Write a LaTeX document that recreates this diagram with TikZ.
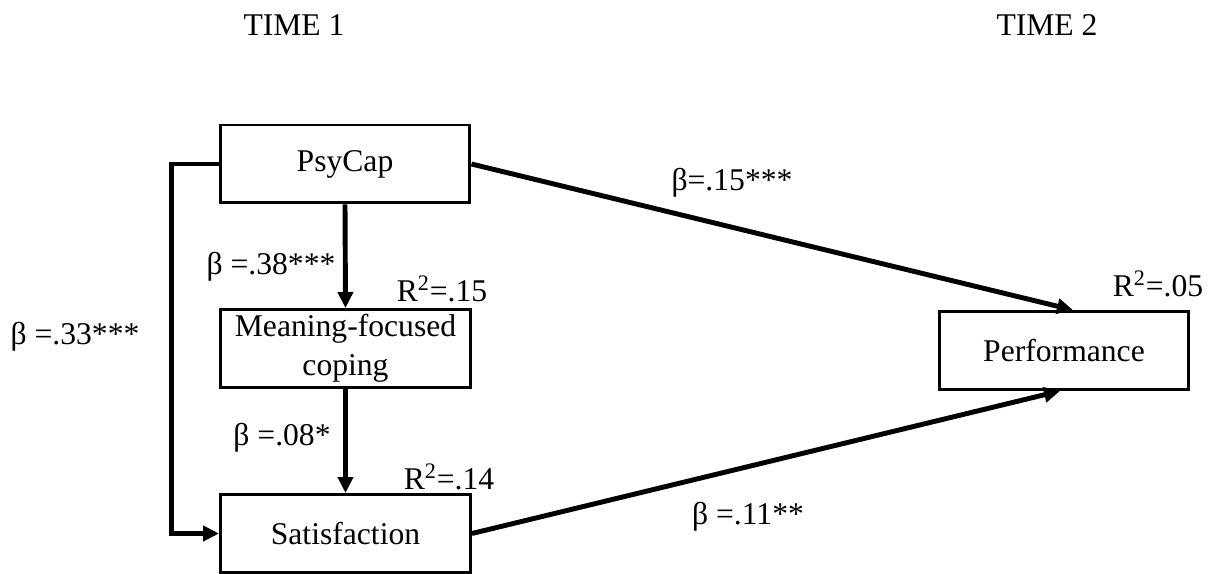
\documentclass[tikz,border=0pt]{standalone}
\usepackage{fontspec}
\setmainfont{Liberation Serif}
\usetikzlibrary{arrows.meta}
\tikzset{
    var/.style={draw, line width=1.7pt, minimum width=5cm, minimum height=1.56cm, align=center, inner sep=0pt},
    effect/.style={line width=2.8pt, -{Triangle[length=0.32cm,width=0.3cm]}},
}

\begin{document}
\begin{tikzpicture}[x=0.02cm, y=-0.02cm, font=\fontsize{18}{22.5}\selectfont]
\useasboundingbox (0,0) rectangle (1213,574);
\node (time1) at (294,25) {TIME 1};
\node (time2) at (1047,25) {TIME 2};

\node[var] (psycap) at (345,164) {PsyCap};
\node[var] (coping) at (345.5,348.5) {Meaning-focused\\coping};
\node[var] (satis) at (345.5,533.5) {Satisfaction};
\node[var] (perf) at (1064,350.5) {Performance};

\draw[effect] (psycap.south) -- (coping.north);
\draw[effect] (coping.south) -- (satis.north);
\draw[effect] (psycap.west) -- ++(-47,0) |- (satis.west);
\draw[effect] (psycap.east) -- ([xshift=0.18cm]perf.north);
\draw[effect] (satis.east) -- ([xshift=-0.08cm]perf.south);

\node (b15) at (732,183) {β=.15***};
\node (b11) at (748,517) {β =.11**};
\node (b38) at (271,267) {β =.38***};
\node (b08) at (282,438) {β =.08*};
\node (b33) at (75,337) {β =.33***};
\node (r15) at (442,289) {R\textsuperscript{2}=.15}; % coping
\node (r14) at (449,477) {R\textsuperscript{2}=.14}; % satisfaction
\node (r05) at (1158,284) {R\textsuperscript{2}=.05}; % performance

\end{tikzpicture}
\end{document}
